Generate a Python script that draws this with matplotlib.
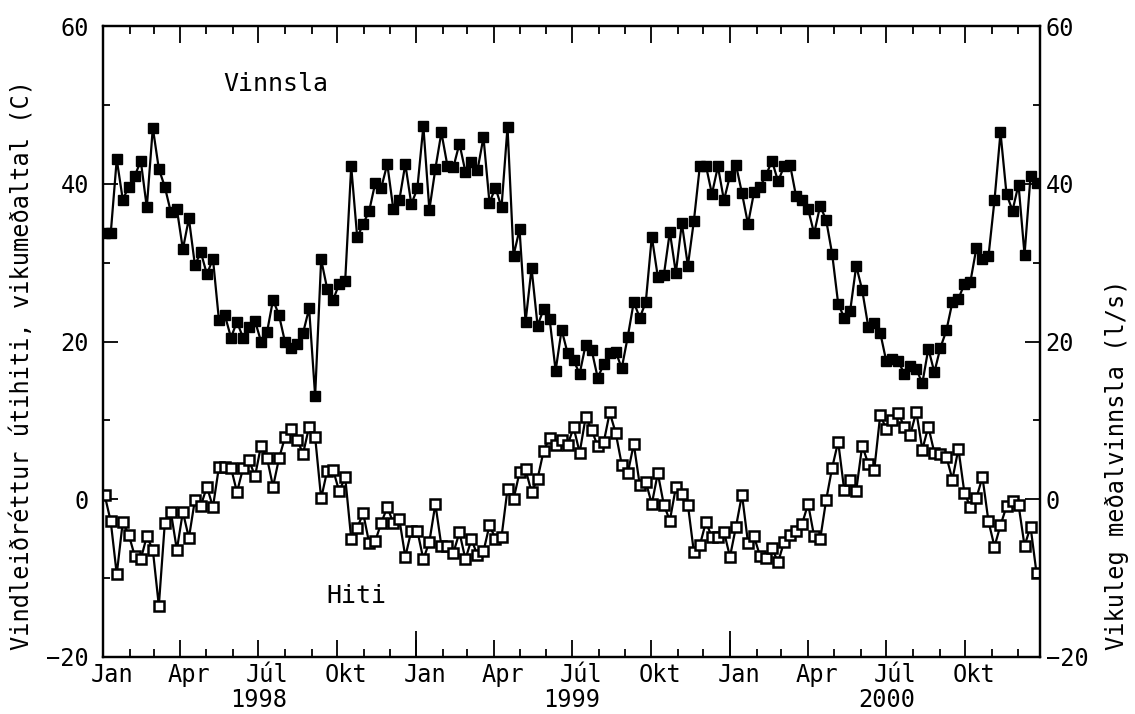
import numpy as np
import pandas as pd
import matplotlib
matplotlib.use('Agg')
import matplotlib.pyplot as plt
import matplotlib.dates as mdates
from matplotlib.transforms import ScaledTranslation, blended_transform_factory

plt.rcParams['font.family'] = ['DejaVu Sans Mono']

# vikulegar mælingar, jan 1998 - des 2000
vinnsla = [33.8, 33.7, 43.1, 38.0, 39.6, 41.0, 42.9, 37.0, 47.1, 41.9, 39.6, 36.4, 36.8, 31.7,
           35.6, 29.7, 31.3, 28.5, 30.5, 22.7, 23.3, 20.5, 22.5, 20.5, 21.8, 22.6, 20.0, 21.2,
           25.3, 23.3, 19.9, 19.2, 19.7, 21.1, 24.2, 13.1, 30.4, 26.7, 25.3, 27.3, 27.7, 42.2,
           33.2, 34.9, 36.6, 40.1, 39.5, 42.5, 36.8, 37.9, 42.5, 37.4, 39.4, 47.3,
           36.7, 41.9, 46.5, 42.3, 42.1, 45.1, 41.5, 42.7, 41.7, 45.9, 37.6, 39.5, 37.0, 47.2,
           30.9, 34.2, 22.5, 29.3, 22.0, 24.1, 22.9, 16.3, 21.5, 18.5, 17.6, 15.9, 19.6, 18.9,
           15.4, 17.1, 18.5, 18.7, 16.6, 20.6, 25.0, 23.0, 25.0, 33.3, 28.2, 28.4, 33.9, 28.7,
           35.0, 29.6, 35.3, 42.3, 42.3, 38.7, 42.2, 37.9, 41.0,
           42.4, 38.8, 34.9, 38.9, 39.6, 41.1, 42.9, 40.3, 42.2, 42.4, 38.4, 38.0, 36.8, 33.7,
           37.2, 35.4, 31.1, 24.8, 23.0, 23.9, 29.6, 26.5, 21.9, 22.3, 21.1, 17.5, 17.8, 17.5,
           15.9, 16.9, 16.5, 14.7, 19.1, 16.1, 19.2, 21.4, 25.0, 25.4, 27.3, 27.6, 31.9, 30.5,
           30.8, 37.9, 46.5, 38.7, 36.6, 39.9, 31.0, 41.0, 40.1]

hiti = [0.5, -2.8, -9.5, -2.9, -4.5, -7.2, -7.6, -4.7, -6.4, -13.5, -3.0, -1.6, -6.4, -1.6,
        -4.9, -0.1, -0.8, 1.6, -1.0, 4.1, 4.1, 4.0, 0.9, 3.9, 5.0, 2.9, 6.8, 5.2,
        1.6, 5.2, 7.9, 8.9, 7.5, 5.8, 9.2, 7.9, 0.1, 3.6, 3.7, 1.0, 2.8, -5.0,
        -3.6, -1.8, -5.6, -5.3, -3.0, -1.0, -3.0, -2.5, -7.3, -4.0, -4.0, -7.6,
        -5.4, -0.6, -5.9, -5.9, -6.8, -4.2, -7.6, -5.1, -7.1, -6.6, -3.3, -5.0, -4.8, 1.3,
        0.0, 3.4, 3.8, 0.9, 2.6, 6.1, 7.8, 6.9, 7.5, 6.9, 9.1, 5.9, 10.4, 8.8,
        6.7, 7.2, 11.0, 8.4, 4.4, 3.3, 7.0, 1.8, 2.2, -0.6, 3.3, -0.7, -2.7, 1.5,
        0.7, -0.7, -6.7, -5.8, -2.9, -4.8, -4.8, -4.1, -7.3,
        -3.5, 0.6, -5.5, -4.7, -7.2, -7.5, -6.2, -8.0, -5.4, -4.5, -4.0, -3.1, -0.6, -4.7,
        -5.1, -0.1, 4.0, 7.3, 1.2, 2.5, 1.1, 6.8, 4.5, 3.7, 10.7, 8.9, 10.0, 10.9,
        9.2, 8.2, 11.1, 6.3, 9.2, 5.9, 5.7, 5.4, 2.5, 6.4, 0.8, -1.0, 0.2, 2.8,
        -2.8, -6.0, -3.3, -0.9, -0.2, -0.7, -5.9, -3.5, -9.4]

dagar = pd.date_range('1998-01-03', periods=len(vinnsla), freq='7D')
manudir = ['Jan', 'Apr', 'Júl', 'Okt']
manudir_nr = [1, 4, 7, 10]
ar = ['1998', '1999', '2000']

fig = plt.figure(figsize=(11.35, 7.14), dpi=100)
ax = fig.add_axes([103/1135, 1 - 657/714, 937/1135, 631/714])
ax2 = ax.twinx()

ax.plot(dagar, hiti, '-', color='black', lw=1.6, marker='s', ms=7,
        mfc='white', mec='black', mew=1.8)
ax2.plot(dagar, vinnsla, '-', color='black', lw=1.6, marker='s', ms=7,
         mfc='black', mec='black')

for a in (ax, ax2):
    a.set_ylim(-20, 60)
    a.set_yticks([-20, 0, 20, 40, 60])
    a.set_yticks([-10, 10, 30, 50], minor=True)
ax.set_xlim(pd.Timestamp('1998-01-01'), pd.Timestamp('2000-12-27'))

ax.xaxis.set_major_locator(mdates.MonthLocator(bymonth=manudir_nr))
ax.xaxis.set_minor_locator(mdates.MonthLocator())

ax.tick_params(axis='x', which='major', direction='in', length=12, width=1.3,
               top=True, labelbottom=False)
ax.tick_params(axis='x', which='minor', direction='in', length=6, width=1.3, top=True)
ax.tick_params(axis='y', which='major', direction='in', length=11, width=1.3,
               labelsize=17, pad=10, right=False)
ax.tick_params(axis='y', which='minor', direction='in', length=5, width=1.3, right=False)
ax2.tick_params(axis='y', which='major', direction='in', length=11, width=1.3,
                labelsize=17, pad=4)
ax2.tick_params(axis='y', which='minor', direction='in', length=5, width=1.3)

# lengri strik við áramót
sec = ax.secondary_xaxis('bottom')
sec.xaxis.set_major_locator(mdates.YearLocator())
sec.tick_params(axis='x', direction='in', length=19, width=1.3, labelbottom=False)
sec.spines['bottom'].set_visible(False)

for a in (ax, ax2):
    for s in a.spines.values():
        s.set_linewidth(1.6)

trans = blended_transform_factory(ax.transData, ax.transAxes)
trans_m = trans + ScaledTranslation(9/100, 0, fig.dpi_scale_trans)
for y in ar:
    for m, nafn in zip(manudir_nr, manudir):
        ax.text(pd.Timestamp(f'{y}-{m:02d}-01'), -0.029, nafn, transform=trans_m,
                ha='center', va='center', fontsize=17)
    ax.text(pd.Timestamp(y + '-07-01'), -0.068, y, transform=trans, ha='center',
            va='center', fontsize=17)

ax.text(pd.Timestamp('1998-07-21'), 52.7, 'Vinnsla', ha='center', va='center', fontsize=18)
ax.text(pd.Timestamp('1998-10-23'), -12.3, 'Hiti', ha='center', va='center', fontsize=18)

fig.text(23/1135, 1 - 650/714, 'Vindleiðréttur útihiti, vikumeðaltal (C)', rotation=90,
         ha='center', va='bottom', fontsize=17)
fig.text(1117/1135, 1 - 650/714, 'Vikuleg meðalvinnsla (l/s)', rotation=90,
         ha='center', va='bottom', fontsize=17)

fig.savefig('out.png', dpi=100)
